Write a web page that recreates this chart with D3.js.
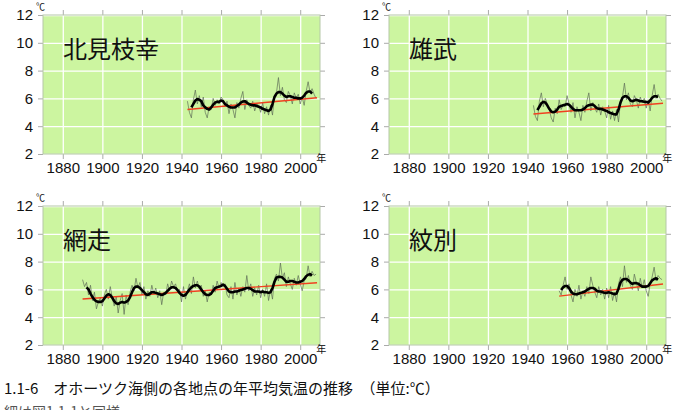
<!DOCTYPE html>
<html>
<head>
<meta charset="utf-8">
<script src="https://cdn.jsdelivr.net/npm/d3@7"></script>
<style>
  html, body { margin: 0; padding: 0; background: #fff; overflow: hidden; }
  svg { display: block; }
  .tick text { font-family: "Liberation Sans", Arial, sans-serif; font-size: 15px; fill: #111; }
</style>
</head>
<body>
<div id="chart"></div>
<script>
// ---- data ----
const stationNames = ['北見枝幸', '雄武', '網走', '紋別'];
const xTicks = [1880, 1900, 1920, 1940, 1960, 1980, 2000];
const yTicks = [2, 4, 6, 8, 10, 12];

// 北見枝幸
const esashiStart = 1943;
const esashiAnnual = [5.8, 5.0, 4.6, 5.9, 6.6, 5.6, 6.2, 5.4, 6.1, 5.0,
  4.6, 5.4, 5.2, 6.0, 5.5, 5.9, 5.6, 6.1, 5.9, 5.4,
  5.8, 4.9, 5.6, 5.2, 4.6, 5.7, 5.3, 6.0, 6.5, 5.2,
  5.9, 5.5, 5.3, 5.8, 5.1, 5.6, 5.5, 5.0, 5.7, 4.9,
  5.4, 4.8, 5.5, 4.8, 6.2, 6.4, 7.5, 6.2, 6.8, 5.9,
  5.7, 6.5, 6.2, 5.6, 6.4, 6.0, 6.3, 5.6, 6.1, 5.5,
  6.5, 7.2, 6.4, 6.7, 6.3, 6.0];
const esashiMeanStart = 1945;
const esashiMean = [5.35, 5.6, 5.85, 5.95, 5.9, 5.8, 5.5, 5.35, 5.25, 5.2,
  5.35, 5.55, 5.7, 5.75, 5.75, 5.85, 5.8, 5.6, 5.5, 5.4,
  5.35, 5.35, 5.35, 5.45, 5.55, 5.7, 5.78, 5.8, 5.7, 5.6,
  5.55, 5.5, 5.5, 5.45, 5.4, 5.35, 5.25, 5.2, 5.15, 5.1,
  5.2, 5.6, 6.1, 6.35, 6.45, 6.45, 6.35, 6.2, 6.1, 6.15,
  6.15, 6.1, 6.05, 6.05, 6.0, 6.0, 6.05, 6.2, 6.4, 6.5,
  6.5, 6.35];
const esashiTrend = [5.2, 6.05];

// 雄武
const oumuStart = 1943;
const oumuAnnual = [5.5, 4.7, 4.4, 5.8, 6.4, 5.4, 6.0, 5.6, 5.2, 4.6,
  4.3, 5.3, 4.9, 5.9, 5.2, 5.5, 5.4, 6.2, 5.6, 5.0,
  5.7, 4.6, 5.4, 5.0, 4.4, 5.5, 5.0, 5.8, 6.4, 5.1,
  5.7, 5.3, 5.0, 5.6, 4.8, 5.4, 5.1, 4.6, 5.5, 4.5,
  5.1, 4.4, 5.2, 4.3, 5.8, 6.1, 7.1, 5.9, 6.4, 5.6,
  5.4, 6.2, 5.9, 5.3, 6.1, 5.7, 6.0, 5.3, 5.9, 5.1,
  6.2, 7.0, 6.0, 6.3, 6.0, 5.8];
const oumuMeanStart = 1945;
const oumuMean = [5.15, 5.4, 5.65, 5.75, 5.7, 5.5, 5.25, 5.05, 5.0, 5.05,
  5.2, 5.4, 5.45, 5.5, 5.55, 5.6, 5.55, 5.4, 5.25, 5.15,
  5.15, 5.15, 5.15, 5.2, 5.3, 5.45, 5.5, 5.55, 5.55, 5.45,
  5.3, 5.25, 5.25, 5.2, 5.15, 5.1, 5.0, 4.95, 4.9, 4.85,
  4.85, 5.2, 5.7, 6.05, 6.15, 6.15, 6.05, 5.85, 5.8, 5.85,
  5.9, 5.85, 5.8, 5.8, 5.75, 5.75, 5.7, 5.85, 6.05, 6.15,
  6.15, 6.1];
const oumuTrend = [4.88, 5.65];

// 網走
const abashiriStart = 1890;
const abashiriAnnual = [6.7, 6.2, 6.5, 5.6, 6.3, 5.2, 5.8, 4.6, 5.1, 5.4,
  4.8, 5.6, 6.0, 5.3, 6.2, 5.4, 4.8, 5.5, 4.3, 5.2,
  5.7, 4.2, 5.6, 4.9, 5.8, 6.3, 5.9, 6.8, 6.1, 6.5,
  5.6, 6.2, 5.3, 5.9, 5.5, 6.3, 5.7, 6.1, 5.4, 5.9,
  4.9, 5.8, 5.6, 6.4, 5.9, 6.6, 6.2, 6.4, 5.8, 6.0,
  5.1, 6.2, 5.3, 5.9, 6.4, 5.7, 6.9, 6.1, 6.6, 6.0,
  6.3, 5.5, 5.9, 5.1, 5.8, 5.6, 6.3, 5.8, 6.6, 6.1,
  6.5, 6.2, 6.4, 5.6, 5.4, 6.2, 5.3, 6.5, 5.6, 6.1,
  5.5, 6.2, 5.8, 7.0, 5.9, 6.4, 5.5, 6.1, 5.6, 6.3,
  5.4, 6.0, 5.5, 6.4, 5.2, 6.0, 5.3, 6.8, 7.1, 6.6,
  7.9, 6.8, 7.2, 6.2, 6.9, 6.4, 6.0, 6.8, 6.3, 7.0,
  6.4, 5.9, 6.6, 6.8, 7.7, 6.9, 7.3, 7.0, 7.1];
const abashiriMeanStart = 1892;
const abashiriMean = [6.15, 6.0, 5.7, 5.45, 5.25, 5.15, 5.1, 5.1, 5.15, 5.35,
  5.55, 5.65, 5.6, 5.4, 5.15, 5.0, 4.95, 5.05, 5.1, 5.05,
  5.1, 5.2, 5.45, 5.8, 6.1, 6.2, 6.2, 6.1, 5.95, 5.8,
  5.65, 5.6, 5.7, 5.8, 5.8, 5.75, 5.7, 5.65, 5.6, 5.65,
  5.75, 5.9, 6.05, 6.15, 6.15, 6.1, 5.95, 5.75, 5.6, 5.55,
  5.6, 5.8, 6.0, 6.15, 6.25, 6.3, 6.3, 6.2, 6.0, 5.8,
  5.65, 5.6, 5.6, 5.7, 5.9, 6.1, 6.15, 6.2, 6.25, 6.35,
  6.25, 6.05, 5.85, 5.8, 5.8, 5.85, 5.85, 5.9, 5.95, 6.0,
  6.05, 6.1, 6.1, 6.05, 5.95, 5.85, 5.85, 5.85, 5.8, 5.85,
  5.8, 5.8, 5.75, 5.8, 6.1, 6.55, 6.85, 6.9, 6.9, 6.85,
  6.7, 6.55, 6.55, 6.6, 6.6, 6.55, 6.5, 6.5, 6.55, 6.6,
  6.75, 6.95, 7.05, 7.1, 7.0];
const abashiriTrend = [5.31, 6.48];

// 紋別
const monbetsuStart = 1956;
const monbetsuAnnual = [5.9, 5.6, 6.3, 6.9, 6.0, 6.4, 5.6, 5.1, 6.0, 5.5,
  6.3, 5.3, 5.9, 5.5, 6.2, 5.7, 6.9, 6.3, 5.8, 5.4,
  6.2, 5.6, 6.0, 5.3, 6.1, 5.4, 6.2, 5.2, 5.8, 5.1,
  6.4, 6.9, 6.2, 7.7, 6.5, 7.0, 6.3, 6.0, 7.1, 6.5,
  5.9, 6.8, 6.1, 6.7, 5.9, 5.5, 6.4, 6.9, 7.6, 6.6,
  7.0, 6.8, 6.7];
const monbetsuMeanStart = 1957;
const monbetsuMean = [5.95, 6.15, 6.25, 6.25, 6.1, 5.85, 5.7, 5.65, 5.65, 5.7,
  5.75, 5.8, 5.85, 5.95, 6.05, 6.1, 6.1, 6.05, 5.9, 5.85,
  5.85, 5.8, 5.75, 5.75, 5.8, 5.75, 5.7, 5.65, 5.7, 6.05,
  6.5, 6.7, 6.75, 6.75, 6.65, 6.5, 6.4, 6.45, 6.45, 6.4,
  6.3, 6.2, 6.2, 6.2, 6.25, 6.45, 6.65, 6.75, 6.8, 6.7];
const monbetsuTrend = [5.52, 6.39];

// ---- layout ----
const W = 675, H = 410;
const plotW = 277, plotH = 139;
const panelPos = [[43, 15], [389, 15], [43, 206], [389, 206]];

const series = [
  {start: esashiStart, annual: esashiAnnual, meanStart: esashiMeanStart, mean: esashiMean, trend: esashiTrend},
  {start: oumuStart, annual: oumuAnnual, meanStart: oumuMeanStart, mean: oumuMean, trend: oumuTrend},
  {start: abashiriStart, annual: abashiriAnnual, meanStart: abashiriMeanStart, mean: abashiriMean, trend: abashiriTrend},
  {start: monbetsuStart, annual: monbetsuAnnual, meanStart: monbetsuMeanStart, mean: monbetsuMean, trend: monbetsuTrend}
];

const svg = d3.select('#chart').append('svg')
  .attr('width', W)
  .attr('height', H);

const x = d3.scaleLinear().domain([1870, 2010]).range([0, plotW]);
const y = d3.scaleLinear().domain([2, 12]).range([plotH, 0]);

const line = d3.line()
  .x(d => x(d[0]))
  .y(d => y(d[1]));

stationNames.forEach((name, i) => {
  const s = series[i];
  const g = svg.append('g')
    .attr('transform', `translate(${panelPos[i][0]},${panelPos[i][1]})`);

  // background
  g.append('rect')
    .attr('width', plotW)
    .attr('height', plotH)
    .attr('fill', '#ccf5a0');

  // white grid
  g.append('g')
    .attr('transform', `translate(0,${plotH})`)
    .call(d3.axisBottom(x).tickValues(xTicks).tickSize(-plotH).tickFormat(''))
    .call(a => a.select('.domain').remove())
    .selectAll('line').attr('stroke', '#fff').attr('stroke-width', 1.3);
  g.append('g')
    .call(d3.axisLeft(y).tickValues(yTicks).tickSize(-plotW).tickFormat(''))
    .call(a => a.select('.domain').remove())
    .selectAll('line').attr('stroke', '#fff').attr('stroke-width', 1.3);

  // outer ticks on all sides
  const axes = [
    [d3.axisBottom(x).tickValues(xTicks).tickFormat(''), `translate(0,${plotH})`],
    [d3.axisTop(x).tickValues(xTicks).tickFormat(''), 'translate(0,0)'],
    [d3.axisLeft(y).tickValues(yTicks).tickFormat(''), 'translate(0,0)'],
    [d3.axisRight(y).tickValues(yTicks).tickFormat(''), `translate(${plotW},0)`]
  ];
  axes.forEach(([ax, tr]) => {
    g.append('g')
      .attr('transform', tr)
      .call(ax.tickSizeInner(5).tickSizeOuter(0))
      .call(a => a.select('.domain').remove())
      .selectAll('line').attr('stroke', '#aaa');
  });

  // tick labels
  g.append('g')
    .attr('transform', `translate(0,${plotH})`)
    .call(d3.axisBottom(x).tickValues(xTicks).tickSize(0).tickPadding(8).tickFormat(d3.format('d')))
    .call(a => a.select('.domain').remove());
  g.append('g')
    .call(d3.axisLeft(y).tickValues(yTicks).tickSize(0).tickPadding(10))
    .call(a => a.select('.domain').remove());

  // frame
  g.append('rect')
    .attr('width', plotW)
    .attr('height', plotH)
    .attr('fill', 'none')
    .attr('stroke', '#b5c8a8')
    .attr('stroke-width', 1);

  // units
  g.append('text')
    .attr('x', -7)
    .attr('y', -5)
    .style('font-family', '"Noto Sans CJK JP", sans-serif')
    .style('font-size', '9px')
    .attr('fill', '#111')
    .text('℃');
  g.append('text')
    .attr('x', x(2000) + 16)
    .attr('y', plotH + 8)
    .style('font-family', '"Noto Sans CJK JP", sans-serif')
    .style('font-size', '10px')
    .attr('fill', '#111')
    .text('年');

  // station name
  g.append('text')
    .attr('x', 20)
    .attr('y', 43)
    .style('font-family', '"Noto Sans CJK JP", sans-serif')
    .style('font-size', '24px')
    .attr('fill', '#111')
    .text(name);

  const annualPts = s.annual.map((v, k) => [s.start + k, v]);
  const meanPts = s.mean.map((v, k) => [s.meanStart + k, v]);
  const endYear = s.start + s.annual.length - 1;
  const trendPts = [[s.start, s.trend[0]], [endYear + 0.5, s.trend[1]]];

  g.append('path')
    .datum(annualPts)
    .attr('d', line)
    .attr('fill', 'none')
    .attr('stroke', '#5f6f58')
    .attr('stroke-width', 0.7);

  g.append('path')
    .datum(trendPts)
    .attr('d', line)
    .attr('fill', 'none')
    .attr('stroke', '#f04020')
    .attr('stroke-width', 1.4);

  g.append('path')
    .datum(meanPts)
    .attr('d', line)
    .attr('fill', 'none')
    .attr('stroke', '#000')
    .attr('stroke-width', 2.6)
    .attr('stroke-linejoin', 'round');
});

// caption
svg.append('text')
  .attr('x', 4)
  .attr('y', 394)
  .style('font-family', '"Noto Sans CJK JP", sans-serif')
  .style('font-size', '15px')
  .attr('fill', '#111')
  .text('1.1-6　オホーツク海側の各地点の年平均気温の推移　（単位:℃）');

svg.append('text')
  .attr('x', 4)
  .attr('y', 417)
  .style('font-family', '"Noto Sans CJK JP", sans-serif')
  .style('font-size', '14px')
  .attr('fill', '#555')
  .text('細は図1.1-1と同様');
</script>
</body>
</html>
